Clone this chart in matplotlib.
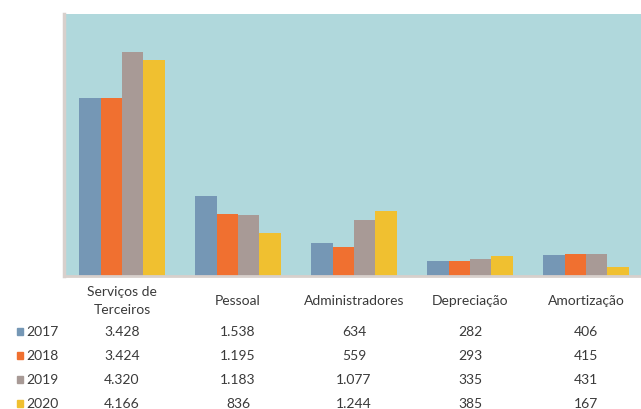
import numpy as np
import matplotlib.pyplot as plt
from matplotlib.transforms import blended_transform_factory

categorias = ["Serviços de\nTerceiros", "Pessoal", "Administradores", "Depreciação", "Amortização"]
anos = ["2017", "2018", "2019", "2020"]
v2017 = [3428, 1538, 634, 282, 406]
v2018 = [3424, 1195, 559, 293, 415]
v2019 = [4320, 1183, 1077, 335, 431]
v2020 = [4166, 836, 1244, 385, 167]
series = [v2017, v2018, v2019, v2020]
cores = ["#7597b5", "#f07030", "#a89a96", "#f0c030"]

plt.rcParams['font.family'] = ['Lato', 'DejaVu Sans']

fig = plt.figure(figsize=(6.41, 4.10), dpi=100)
ax = fig.add_axes([64 / 641, 133 / 410, 580 / 641, 262 / 410])
ax.set_facecolor("#b0d8dc")

x = np.arange(len(categorias))
w = 0.185
for i, vals in enumerate(series):
    ax.bar(x + (i - 1.5) * w, vals, width=w, color=cores[i], zorder=2)

ax.set_xlim(-0.5, len(categorias) - 0.5)
ax.set_ylim(0, 5050)
ax.set_xticks([])
ax.set_yticks([])
for s in ["top", "right"]:
    ax.spines[s].set_visible(False)
ax.spines["left"].set_color("#d8d0cc")
ax.spines["left"].set_linewidth(2.5)
ax.spines["bottom"].set_color("#d8d0cc")
ax.spines["bottom"].set_linewidth(2)

# tabela de dados abaixo do gráfico
tr = blended_transform_factory(ax.transData, fig.transFigure)
cor_txt = "#3a3a3a"
for j, cat in enumerate(categorias):
    ax.text(j, 1 - 301 / 410, cat, transform=tr, ha="center", va="center",
            fontsize=10, color=cor_txt, linespacing=1.6)

linhas_y = [332, 356, 380, 404]
for i, ano in enumerate(anos):
    yf = 1 - linhas_y[i] / 410
    fig.patches.append(plt.Rectangle((17 / 641, yf - 3.5 / 410), 6 / 641, 7 / 410,
                                     transform=fig.transFigure, color=cores[i], figure=fig))
    fig.text(26 / 641, yf, ano, ha="left", va="center", fontsize=10, color=cor_txt)
    for j, v in enumerate(series[i]):
        txt = f"{v:,}".replace(",", ".")
        ax.text(j, yf, txt, transform=tr, ha="center", va="center",
                fontsize=10, color=cor_txt)

fig.savefig("out.png", dpi=100)
